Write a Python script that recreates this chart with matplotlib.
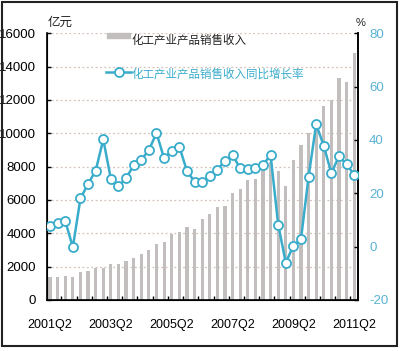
import matplotlib
matplotlib.use("Agg")
import matplotlib.pyplot as plt
from matplotlib.patches import Rectangle
from matplotlib.lines import Line2D
import numpy as np

# ---- data ----
quarters = [f"{y}Q{q}" for y in range(2001, 2012) for q in range(1, 5)][1:42]
revenue = [1400, 1400, 1420, 1400, 1700, 1760, 1900, 1900, 2140, 2150,
           2350, 2520, 2780, 2990, 3380, 3480, 3980, 4100, 4380, 4280,
           4840, 5180, 5580, 5620, 6420, 6680, 7180, 7240, 7900, 8300,
           7760, 6840, 8400, 9300, 10000, 10800, 11640, 12000, 13300, 13100,
           14800]
growth = [7.8, 8.8, 9.6, -0.2, 18.1, 23.5, 28.5, 40.2, 25.4, 22.8,
          25.6, 30.6, 32.6, 36.2, 42.6, 33.1, 36.0, 37.5, 28.4, 24.4,
          24.4, 26.5, 28.8, 32.2, 34.4, 29.4, 29.2, 29.4, 30.5, 34.5,
          8.3, -6.0, 0.3, 2.8, 26.2, 45.9, 37.8, 27.5, 34.0, 30.9,
          26.9]
left_ticks = [0, 2000, 4000, 6000, 8000, 10000, 12000, 14000, 16000]
right_ticks = [-20, 0, 20, 40, 60, 80]
label_every = 8
bar_label = "化工产业产品销售收入"
line_label = "化工产业产品销售收入同比增长率"
left_unit = "亿元"
right_unit = "%"

BAR_C = "#c2bebe"
LINE_C = "#3aaccb"
TICK_C = "#5ab2d2"
GRID_C = "#d4c2ba"
NUM_FONT = ["Liberation Sans Narrow", "Liberation Sans", "DejaVu Sans"]
CJK_FONT = ["Noto Sans CJK SC", "DejaVu Sans"]

fig = plt.figure(figsize=(4.0, 3.51), dpi=100)
W, H = 400, 351
def fx(px): return px / W
def fy(py): return 1 - py / H

ax = fig.add_axes([fx(47), fy(300), fx(358) - fx(47), fy(33.3) - fy(300)])
x = np.arange(len(revenue))
ax.bar(x, revenue, width=0.42, color=BAR_C, zorder=2)
ax.set_xlim(-0.4, 40.5)
ax.set_ylim(0, 16000)
ax.set_yticks(left_ticks)
ax.set_yticklabels([str(v) for v in left_ticks], family=NUM_FONT, fontsize=9.5)
for v in left_ticks[1:]:
    ax.axhline(v, color=GRID_C, lw=0.9, ls=(0, (1.5, 2)), zorder=1)

ax.set_xticks(np.arange(1.5, len(revenue), 2))
ax.set_xticklabels([])
ax.set_xticks(x[::label_every], minor=True)
ax.set_xticklabels([quarters[i] for i in x[::label_every]], minor=True,
                   family=NUM_FONT, fontsize=9)
ax.tick_params(axis="x", which="major", direction="in", length=3, width=1, color="black")
ax.tick_params(axis="x", which="minor", length=0, pad=14)
ax.tick_params(axis="y", direction="in", length=3, width=1, pad=8)
ax.spines["top"].set_visible(False)
for s in ["left", "bottom", "right"]:
    ax.spines[s].set_linewidth(1.2)

ax2 = ax.twinx()
ax2.plot(x, growth, color=LINE_C, lw=1.8, marker="o", ms=6.5,
         mfc="white", mec=LINE_C, mew=1.3, zorder=3)
ax2.set_ylim(-20, 80)
ax2.set_yticks(right_ticks)
ax2.set_yticklabels([str(v) for v in right_ticks], family=NUM_FONT, fontsize=9.5, color=TICK_C)
ax2.tick_params(axis="y", direction="in", length=3, width=1, pad=8)
ax2.spines["top"].set_visible(False)
ax2.spines["right"].set_linewidth(1.2)

# units
fig.text(fx(60), fy(22.5), left_unit, family=CJK_FONT, fontsize=9,
         ha="center", va="center", color="#222222")
fig.text(fx(361), fy(23), right_unit, family=NUM_FONT, fontsize=8,
         ha="center", va="center", color="#222222")

# legend
fig.patches.append(Rectangle((fx(107), fy(37.5)), fx(130) - fx(107), fy(33) - fy(37.5),
                             transform=fig.transFigure, color=BAR_C))
fig.text(fx(132), fy(40), bar_label, family=CJK_FONT, fontsize=8.3,
         ha="left", va="center", color="#222222")
fig.lines.append(Line2D([fx(106), fx(131)], [fy(72), fy(72)], transform=fig.transFigure,
                        color=LINE_C, lw=1.8, zorder=5))
fig.lines.append(Line2D([fx(118.5)], [fy(72)], transform=fig.transFigure,
                        marker="o", ms=6.5, mfc="white", mec=LINE_C, mew=1.3, zorder=6))
fig.text(fx(132), fy(74), line_label, family=CJK_FONT, fontsize=8.3,
         ha="left", va="center", color=LINE_C)

# outer frame
fig.patches.append(Rectangle((fx(2), fy(346)), fx(397) - fx(2), fy(2) - fy(346),
                             transform=fig.transFigure, fill=False, ec="#222222", lw=1.5))

fig.savefig("out.png", dpi=100)
